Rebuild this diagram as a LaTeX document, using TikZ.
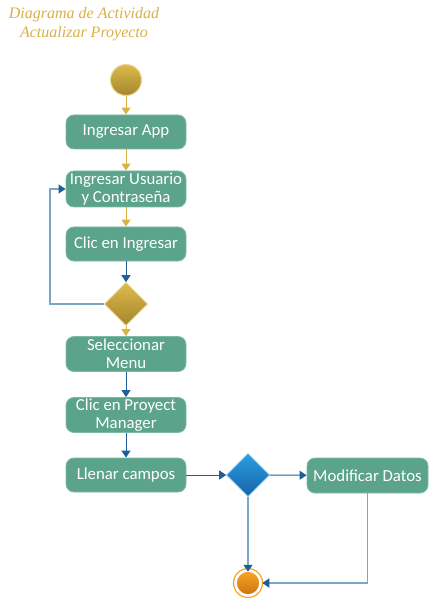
\documentclass[tikz,border=0pt]{standalone}
\usepackage{fontspec}
\setmainfont{Carlito}
\newfontfamily\titlefont{Liberation Serif}
\usetikzlibrary{arrows.meta,shapes.geometric}

\definecolor{actgreen}{HTML}{5BA38A}
\definecolor{actedge}{HTML}{7DBBA4}
\definecolor{goldtop}{HTML}{DDBB4C}
\definecolor{goldbot}{HTML}{A4852C}
\definecolor{goldline}{HTML}{D6B544}
\definecolor{flowblue}{HTML}{1F5F99}
\definecolor{paleblue}{HTML}{7BA6C6}
\definecolor{bluetop}{HTML}{2B9EE2}
\definecolor{bluebot}{HTML}{1763A6}
\definecolor{orangetop}{HTML}{F7A526}
\definecolor{orangebot}{HTML}{CC7410}
\definecolor{titlegold}{HTML}{D8B04A}

\tikzset{
  act/.style={rounded corners=8pt, fill=actgreen, draw=actedge, line width=0.8pt,
    minimum width=120pt, minimum height=34pt, inner sep=1pt, align=center,
    text=white, font=\fontsize{16.8}{18}\selectfont},
  golddec/.style={diamond, minimum width=43pt, minimum height=43pt, inner sep=0pt,
    top color=goldtop, bottom color=goldbot, draw=goldtop!70!white, line width=0.6pt},
  bluedec/.style={diamond, minimum width=43pt, minimum height=43pt, inner sep=0pt,
    top color=bluetop, bottom color=bluebot, draw=bluetop!60!white, line width=0.6pt},
  goldarrow/.style={draw=goldline, line width=1pt, -{Triangle[length=7pt,width=9pt]}},
  bluearrow/.style={draw=flowblue, line width=1pt, -{Triangle[length=7pt,width=9pt]}},
  palearrow/.style={draw=paleblue, line width=1.4pt, -{Triangle[length=7pt,width=9pt,color=flowblue]}}
}

\begin{document}
\begin{tikzpicture}[x=1pt,y=-1pt]
\useasboundingbox (0,0) rectangle (431,601);

% title
\node[text=titlegold, font=\titlefont\itshape\fontsize{16}{19}\selectfont, align=center] (titulo) at (84,24)
  {Diagrama de Actividad\\Actualizar Proyecto};

% start
\node[circle, minimum size=31pt, inner sep=0pt, top color=goldtop, bottom color=goldbot,
  draw=goldtop!60!white, line width=1pt] (inicio) at (126,80) {};

% activities
\node[act] (ingApp) at (126,132) {Ingresar App};
\node[act, minimum height=36pt] (ingUsuario) at (126,189) {Ingresar Usuario\\y Contraseña};
\node[act] (clicIngresar) at (126,244) {Clic en Ingresar};
\node[golddec] (decLogin) at (126,304) {};
\coordinate (loopX) at (50,304);
\node[act, minimum height=35pt] (selMenu) at (126,354) {Seleccionar\\Menu};
\node[act, minimum height=35pt] (clicProyect) at (126,415) {Clic en Proyect\\Manager};
\node[act] (llenarCampos) at (126,475) {Llenar campos};
\node[bluedec] (decDatos) at (248,475) {};
\node[act, minimum width=121pt, minimum height=35pt] (modDatos) at (367.5,475.5) {Modificar Datos};

% end
\node[circle, minimum size=24pt, inner sep=0pt, top color=orangetop, bottom color=orangebot,
  draw=white, line width=1.5pt] (fin) at (248,583) {};
\draw[orangetop, line width=1.2pt] (fin) circle (14.5);

% flows
\draw[goldarrow] (inicio) -- (ingApp);
\draw[goldarrow] (ingApp) -- (ingUsuario);
\draw[goldarrow] (ingUsuario) -- (clicIngresar);
\draw[bluearrow] (clicIngresar) -- (decLogin);
\draw[palearrow] (decLogin.west) -- (loopX) |- (ingUsuario.west);
\draw[goldarrow] (decLogin) -- (selMenu);
\draw[bluearrow] (selMenu) -- (clicProyect);
\draw[bluearrow] (clicProyect) -- (llenarCampos);
\draw[bluearrow] (llenarCampos) -- (decDatos);
\draw[bluearrow] (decDatos) -- (modDatos);
\draw[palearrow] (decDatos) -- ([yshift=-1.5pt]fin.north);
\draw[palearrow] (modDatos.south) |- ([xshift=1.5pt]fin.east);
\end{tikzpicture}
\end{document}
